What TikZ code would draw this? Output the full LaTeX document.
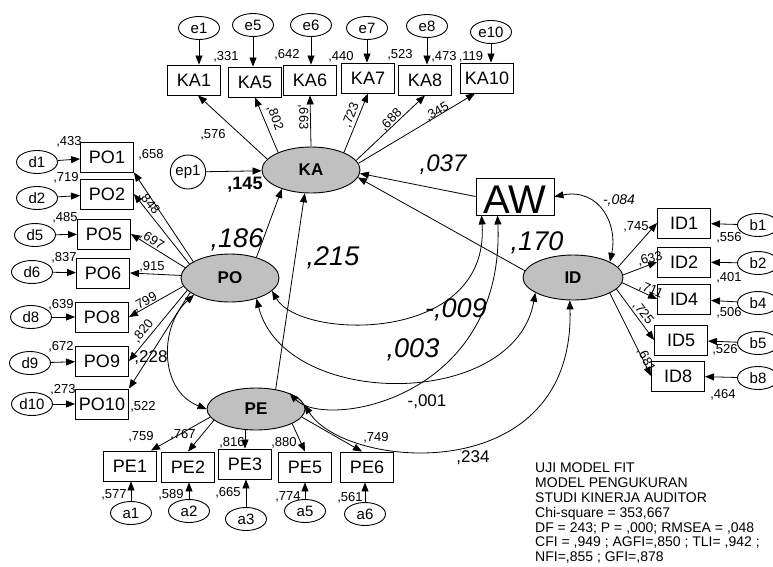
\documentclass[tikz,border=0pt]{standalone}
\usepackage{fontspec}
\setmainfont{Liberation Sans}
\usetikzlibrary{positioning,shapes.geometric,arrows.meta}
\definecolor{latentgray}{RGB}{192,192,192}
\tikzset{
  obsbox/.style={
    rectangle, draw, line width=0.9pt,
    minimum width=53pt, minimum height=30pt,
    inner sep=0pt, font=\fontsize{18}{18}\selectfont
  },
  errterm/.style={
    ellipse, draw, line width=0.9pt,
    minimum width=41pt, minimum height=23pt,
    inner sep=0pt, font=\fontsize{15}{15}\selectfont
  },
  latent/.style={
    ellipse, draw, line width=0.9pt, fill=latentgray,
    minimum width=98pt, minimum height=46pt,
    inner sep=0pt, font=\fontsize{17}{17}\selectfont\bfseries
  },
  regarrow/.style={-{Triangle[length=9pt,width=7pt]}, line width=0.8pt},
  covarrow/.style={{Triangle[length=9pt,width=7pt]}-{Triangle[length=9pt,width=7pt]}, line width=0.8pt},
  smallnum/.style={inner sep=0pt, font=\fontsize{13}{13}\selectfont},
  midnum/.style={inner sep=0pt, font=\fontsize{17}{17}\selectfont},
  bignum/.style={inner sep=0pt, font=\fontsize{27}{27}\selectfont\itshape},
}

\begin{document}
\begin{tikzpicture}[x=1pt,y=-1pt]
  \useasboundingbox (0,0) rectangle (773,566);
  \clip (0,0) rectangle (773,566);

  % latent variables and AW
  \node[latent] (KA) at (311,170) {KA};
  \node[latent, minimum height=48pt] (PO) at (230,278) {PO};
  \node[latent, minimum height=42pt] (PE) at (256,409) {PE};
  \node[latent, minimum width=100pt, minimum height=45pt] (ID) at (573,277.5) {ID};
  \node[obsbox, minimum width=78pt, minimum height=37pt, font=\fontsize{40}{40}\selectfont,
    text height=33pt, text depth=0pt] (AW) at (515,196.5) {AW};
  \node[errterm, minimum width=31pt, minimum height=34pt] (ep1) at (188,172) {ep1};

  % KA indicators
  \node[obsbox] (KA1) at (194,80) {KA1};
  \node[obsbox] (KA5) at (255,82) {KA5};
  \node[obsbox] (KA6) at (310,80) {KA6};
  \node[obsbox] (KA7) at (368,78) {KA7};
  \node[obsbox] (KA8) at (425,80) {KA8};
  \node[obsbox] (KA10) at (487,78) {KA10};
  \node[errterm] (e1) at (199,28) {e1};
  \node[errterm] (e5) at (253,25) {e5};
  \node[errterm] (e6) at (311,25) {e6};
  \node[errterm] (e7) at (367,28) {e7};
  \node[errterm] (e8) at (427,26) {e8};
  \node[errterm] (e10) at (491,32) {e10};

  % PO indicators
  \node[obsbox] (PO1) at (107,157) {PO1};
  \node[obsbox] (PO2) at (107,194) {PO2};
  \node[obsbox] (PO5) at (104,234) {PO5};
  \node[obsbox] (PO6) at (103,273) {PO6};
  \node[obsbox] (PO8) at (102,317) {PO8};
  \node[obsbox] (PO9) at (102,361) {PO9};
  \node[obsbox] (PO10) at (102,404) {PO10};
  \node[errterm] (d1) at (37,162) {d1};
  \node[errterm] (d2) at (37,198) {d2};
  \node[errterm] (d5) at (35,235) {d5};
  \node[errterm] (d6) at (32,272) {d6};
  \node[errterm] (d8) at (31,317) {d8};
  \node[errterm] (d9) at (30,363) {d9};
  \node[errterm] (d10) at (32,404) {d10};

  % ID indicators
  \node[obsbox] (ID1) at (684,223) {ID1};
  \node[obsbox] (ID2) at (684,262) {ID2};
  \node[obsbox] (ID4) at (684,299) {ID4};
  \node[obsbox] (ID5) at (681,340) {ID5};
  \node[obsbox] (ID8) at (678,376) {ID8};
  \node[errterm] (b1) at (758,225) {b1};
  \node[errterm] (b2) at (758,263) {b2};
  \node[errterm] (b4) at (758,303) {b4};
  \node[errterm] (b5) at (758,343) {b5};
  \node[errterm] (b8) at (758,378) {b8};

  % PE indicators
  \node[obsbox] (PE1) at (130,466) {PE1};
  \node[obsbox] (PE2) at (188,467) {PE2};
  \node[obsbox] (PE3) at (245,464) {PE3};
  \node[obsbox] (PE5) at (305,467) {PE5};
  \node[obsbox] (PE6) at (367,467) {PE6};
  \node[errterm] (a1) at (131,513) {a1};
  \node[errterm] (a2) at (189,511) {a2};
  \node[errterm] (a3) at (246,519) {a3};
  \node[errterm] (a5) at (305,511) {a5};
  \node[errterm] (a6) at (365,514) {a6};

  % error terms into indicators
  \draw[regarrow] (e1) -- (e1 |- KA1.north);
  \draw[regarrow] (e5) -- (e5 |- KA5.north);
  \draw[regarrow] (e6) -- (e6 |- KA6.north);
  \draw[regarrow] (e7) -- (e7 |- KA7.north);
  \draw[regarrow] (e8) -- (e8 |- KA8.north);
  \draw[regarrow] (e10) -- (e10 |- KA10.north);
  \draw[regarrow] (d1) -- (PO1);
  \draw[regarrow] (d2) -- (PO2);
  \draw[regarrow] (d5) -- (PO5);
  \draw[regarrow] (d6) -- (PO6);
  \draw[regarrow] (d8) -- (PO8);
  \draw[regarrow] (d9) -- (PO9);
  \draw[regarrow] (d10) -- (PO10);
  \draw[regarrow] (b1) -- (ID1);
  \draw[regarrow] (b2) -- (ID2);
  \draw[regarrow] (b4) -- (ID4);
  \draw[regarrow] (b5) -- (ID5);
  \draw[regarrow] (b8) -- (ID8);
  \draw[regarrow] (a1) -- (a1 |- PE1.south);
  \draw[regarrow] (a2) -- (a2 |- PE2.south);
  \draw[regarrow] (a3) -- (a3 |- PE3.south);
  \draw[regarrow] (a5) -- (a5 |- PE5.south);
  \draw[regarrow] (a6) -- (a6 |- PE6.south);

  % loadings
  \draw[regarrow] (KA.166) -- ([xshift=4pt]KA1.south);
  \draw[regarrow] (KA.152) -- (KA5.south);
  \draw[regarrow] (KA.north) -- (KA6.south);
  \draw[regarrow] (KA.28) -- (KA7.south);
  \draw[regarrow] (KA.12) -- (KA8.south);
  \draw[regarrow] (KA.8) -- ([xshift=-12pt]KA10.south);
  \draw[regarrow] (PO.156) -- (PO1.south east);
  \draw[regarrow] (PO.161) -- (PO2.east);
  \draw[regarrow] (PO.167) -- (PO5.east);
  \draw[regarrow] (PO.177) -- (PO6.east);
  \draw[regarrow] (PO.190) -- (PO8.east);
  \draw[regarrow] (PO.196) -- (PO9.east);
  \draw[regarrow] (PO.200) -- (PO10.north east);
  \draw[regarrow] (ID.13) -- (ID1.west);
  \draw[regarrow] (ID.3) -- (ID2.west);
  \draw[regarrow] (ID.354) -- (ID4.west);
  \draw[regarrow] (ID.345) -- (ID5.west);
  \draw[regarrow] (ID.337) -- (ID8.west);
  \draw[regarrow] (PE.190) -- ([xshift=-6pt]PE1.north east);
  \draw[regarrow] (PE.195) -- (PE2.north);
  \draw[regarrow] (PE.south -| PE3.north) -- (PE3.north);
  \draw[regarrow] (PE.338) -- (PE5.north);
  \draw[regarrow] (PE.350) -- ([xshift=-5pt]PE6.north);

  % structural paths
  \draw[regarrow] (ep1) -- (KA);
  \draw[regarrow] (PO.38) -- (KA.213);
  \draw[regarrow] (PE.45) -- (KA.255);
  \draw[regarrow] (AW.west) -- (KA.356);
  \draw[regarrow] (ID.172) -- (KA.351);

  % covariances
  \draw[covarrow] (PO.205) .. controls (160,325) and (158,390) .. (PE.west);
  \draw[covarrow] (AW.east) .. controls (600,188) and (618,225) .. (ID.23);
  \draw[covarrow] (PO.343) .. controls (300,340) and (490,345) .. ([xshift=6pt]AW.south west);
  \draw[covarrow] (PE.25) .. controls (325,430) and (505,400) .. ([xshift=22pt]AW.south west);
  \draw[covarrow] (PO.322) .. controls (285,410) and (515,410) .. (ID.202);
  \draw[covarrow] (PE.5) .. controls (345,470) and (575,490) .. (ID.262);

  % KA estimates
  \node[smallnum] (sKA1) at (226,57) {,331};
  \node[smallnum] (sKA5) at (287,55) {,642};
  \node[smallnum] (sKA6) at (341,57) {,440};
  \node[smallnum] (sKA7) at (400,55) {,523};
  \node[smallnum] (sKA8) at (444,57) {,473};
  \node[smallnum] (sKA10) at (471,57) {,119};
  \node[smallnum] (lKA1) at (213,135) {,576};
  \node[smallnum, rotate=-70] (lKA5) at (275,118) {,802};
  \node[smallnum, rotate=-90] (lKA6) at (303,117) {,663};
  \node[smallnum, rotate=68] (lKA7) at (351,115) {,723};
  \node[smallnum, rotate=45] (lKA8) at (391,120) {,688};
  \node[smallnum, rotate=31] (lKA10) at (437,112) {,345};
  \node[inner sep=0pt, font=\fontsize{18}{18}\selectfont\bfseries] (sKA) at (245,185) {,145};

  % PO estimates
  \node[smallnum] (sPO1) at (69,142) {,433};
  \node[smallnum] (sPO2) at (66,178) {,719};
  \node[smallnum] (sPO5) at (65,218) {,485};
  \node[smallnum] (sPO6) at (64,258) {,837};
  \node[smallnum] (sPO8) at (61,305) {,639};
  \node[smallnum] (sPO9) at (61,347) {,672};
  \node[smallnum] (sPO10) at (63,390) {,273};
  \node[smallnum] (lPO1) at (151,155) {,658};
  \node[smallnum, rotate=-50] (lPO2) at (149,203) {,848};
  \node[smallnum, rotate=-32] (lPO5) at (152,240) {,697};
  \node[smallnum] (lPO6) at (152,267) {,915};
  \node[smallnum, rotate=29] (lPO8) at (145,302) {,799};
  \node[smallnum, rotate=50] (lPO9) at (143,331) {,820};
  \node[smallnum] (lPO10) at (143,407) {,522};

  % ID estimates
  \node[smallnum] (lID1) at (636,227) {,745};
  \node[smallnum, rotate=15] (lID2) at (650,259) {,633};
  \node[smallnum, rotate=-23] (lID4) at (651,290) {,711};
  \node[smallnum, rotate=-52] (lID5) at (643,313) {,725};
  \node[smallnum, rotate=-63] (lID8) at (646,360) {,681};
  \node[smallnum] (sID1) at (729,238) {,556};
  \node[smallnum] (sID2) at (729,278) {,401};
  \node[smallnum] (sID4) at (729,313) {,506};
  \node[smallnum] (sID5) at (725,350) {,526};
  \node[smallnum] (sID8) at (723,395) {,464};

  % PE estimates
  \node[smallnum] (lPE1) at (141,437) {,759};
  \node[smallnum] (lPE2) at (183,435) {,767};
  \node[smallnum] (lPE3) at (232,443) {,816};
  \node[smallnum] (lPE5) at (284,443) {,880};
  \node[smallnum] (lPE6) at (376,438) {,749};
  \node[smallnum] (sPE1) at (114,495) {,577};
  \node[smallnum] (sPE2) at (171,495) {,589};
  \node[smallnum] (sPE3) at (228,493) {,665};
  \node[smallnum] (sPE5) at (288,497) {,774};
  \node[smallnum] (sPE6) at (350,498) {,561};

  % structural and covariance estimates
  \node[bignum] (cPOKA) at (237,240) {,186};
  \node[bignum] (cPEKA) at (333,258) {,215};
  \node[bignum, font=\fontsize{24}{24}\selectfont\itshape] (cAWKA) at (443,165) {,037};
  \node[bignum] (cIDKA) at (537,243) {,170};
  \node[bignum] (cPOAW) at (456,310) {-,009};
  \node[bignum] (cPOID) at (413,350) {,003};
  \node[midnum] (cPEAW) at (427,402) {-,001};
  \node[midnum] (cPEID) at (473,458) {,234};
  \node[midnum] (cPOPE) at (151,358) {,228};
  \node[inner sep=0pt, font=\fontsize{14}{14}\selectfont\itshape] (cAWID) at (619,200) {-,084};

  % fit summary
  \node[anchor=north west, align=left, inner sep=0pt, font=\fontsize{14}{14.8}\selectfont] (fitstats) at (535,463)
    {UJI MODEL FIT\\MODEL PENGUKURAN\\STUDI KINERJA AUDITOR\\Chi-square = 353,667\\
     DF = 243; P = ,000; RMSEA = ,048\\CFI = ,949 ; AGFI=,850 ; TLI= ,942 ;\\NFI=,855 ; GFI=,878};

\end{tikzpicture}
\end{document}
